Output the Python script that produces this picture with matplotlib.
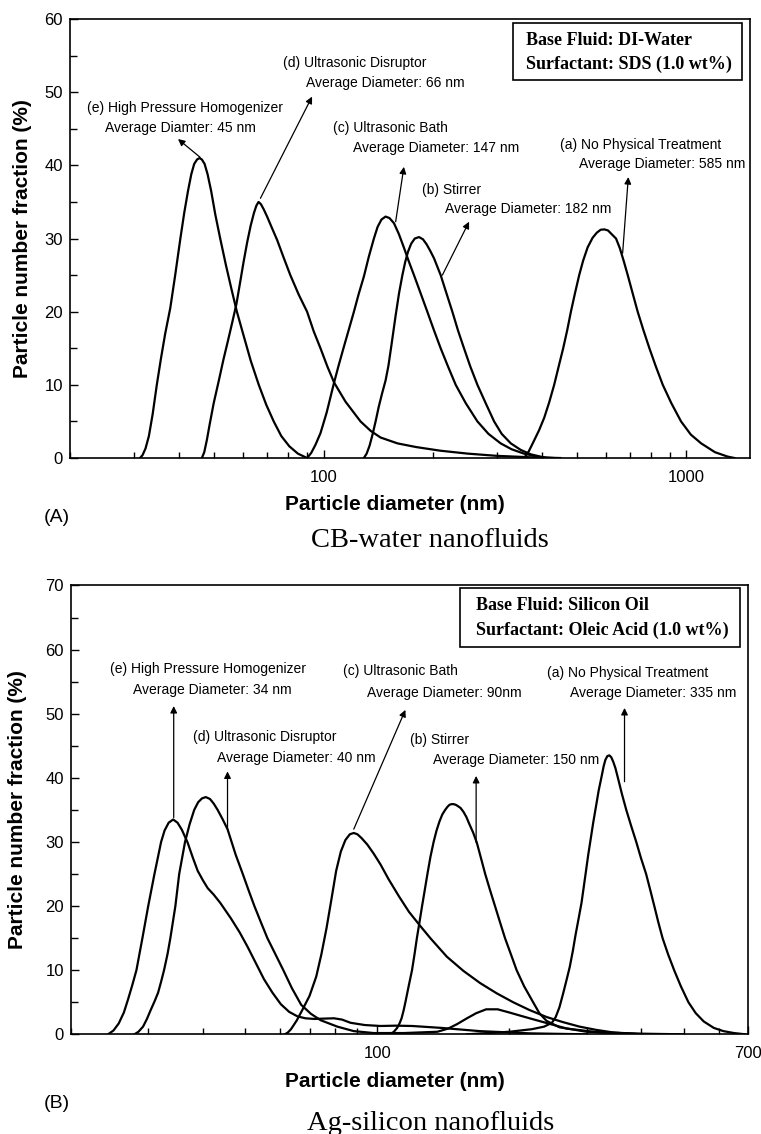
import matplotlib
matplotlib.use("Agg")
import matplotlib.pyplot as plt
from matplotlib.patches import Rectangle
from matplotlib.ticker import LogLocator, MultipleLocator, NullFormatter

plt.rcParams["font.family"] = ["Liberation Sans", "DejaVu Sans"]

# ---------------- (A) CB-water: diameter (nm) vs particle number fraction (%)
cb_a_d = [357.5, 368, 380, 393, 406, 419, 432.5, 445, 458, 470, 481, 494, 507, 520, 535, 552, 567,
          581, 595, 609, 623, 640.6, 656, 672, 690, 712, 735, 762, 791.8, 825, 862, 910, 968,
          1030, 1100, 1200, 1300, 1359]
cb_a_v = [0, 0.9, 2.3, 3.8, 5.5, 7.6, 10, 12.5, 15, 17.5, 20, 22.6, 25, 27, 28.8, 30.1, 30.8,
          31.2, 31.25, 31.1, 30.6, 30, 28.7, 27, 25, 22.5, 20, 17.5, 15, 12.5, 10, 7.5, 5,
          3.2, 2, 0.8, 0.2, 0]

cb_b_d = [129.2, 131.5, 134.0, 136.5, 139.2, 142.0, 145.0, 148.3, 151.0, 154.0, 158.1, 161.5,
          165.0, 168.0, 171.0, 174.5, 178.5, 183.4, 188.0, 192.5, 197.0, 201.7, 210.4, 218,
          226.6, 235, 244.0, 254, 265.7, 280.0, 295.4, 310, 328.5, 350, 373.0, 412.0]
cb_b_v = [0, 0.6, 1.7, 3.2, 5, 7.0, 8.8, 10.6, 12.6, 15.5, 19.5, 22.5,
          25, 26.8, 28.2, 29.3, 30.0, 30.2, 29.9, 29.2, 28.3, 27.3, 25, 22.6,
          20, 17.4, 15, 12.5, 10, 7.5, 5, 3.3, 2, 1.1, 0.5, 0]

cb_c_d = [90.1, 92.5, 95.0, 98.1, 102.0, 106.8, 110.0, 113.8, 117.5, 121.3, 125.0, 129.2,
          133.3, 137.7, 141.0, 144.5, 148.3, 152.0, 156.4, 161.4, 166.5, 171.8, 177.6, 185.0,
          193.3, 201.5, 210.4, 220.5, 231.5, 246.7, 265.7, 285, 308, 330, 357, 397, 430]
cb_c_v = [0, 0.7, 1.8, 3.4, 6.2, 10.2, 12.6, 15.2, 17.6, 20, 22.4, 24.8,
          27.5, 30, 31.6, 32.6, 33, 32.8, 32.1, 30.6, 28.8, 26.9, 25, 22.6,
          20, 17.5, 15, 12.5, 10, 7.5, 5, 3.3, 2, 1.2, 0.6, 0.1, 0]

cb_d_d = [46.2, 46.9, 47.7, 48.5, 49.8, 51.4, 53.0, 54.5, 56.0, 57.5, 58.8, 60.2, 61.6, 63.0,
          64.3, 65.3, 66.2, 67.2, 68.4, 69.9, 72.0, 74.5, 77.5, 81.0, 85.5, 90.1, 94.0, 98.1,
          102.5, 107.0, 115.0, 126.5, 135, 143.7, 160, 180, 210, 250, 300, 373, 450]
cb_d_v = [0, 0.8, 2.5, 4.5, 7.5, 10.5, 13.5, 16, 18.5, 21, 23.8, 26.8, 29.5, 31.8,
          33.5, 34.5, 35, 34.7, 34, 33, 31.5, 29.8, 27.5, 25, 22.3, 20, 17.3, 15,
          12.5, 10.3, 7.7, 5, 3.7, 2.8, 2.0, 1.5, 1.0, 0.6, 0.3, 0.1, 0]

cb_e_d = [31.2, 31.7, 32.3, 33.0, 33.8, 34.7, 35.6, 36.6, 37.8, 39.0, 40.3, 41.3, 42.3, 43.2,
          44.0, 44.8, 45.5, 46.2, 47.0, 47.9, 49.0, 50.3, 51.9, 53.8, 55.8, 57.7, 60.0, 63.0,
          66.3, 69.5, 72.9, 76.5, 80.5, 85.0, 90.1]
cb_e_v = [0, 0.4, 1.3, 3.0, 6.0, 10, 13.5, 17, 20.5, 25, 30, 33.5, 36.5, 38.8,
          40.2, 40.8, 41, 40.8, 40.2, 38.8, 36.5, 33.3, 30, 26.4, 23, 20, 17, 13.3,
          10, 7.3, 5, 3, 1.6, 0.6, 0]

# ---------------- (B) Ag-silicon oil
ag_a_d = [160, 200, 225, 240, 250, 255, 260, 265, 270, 274.5, 279, 283, 287.5, 292, 295.5,
          299, 302.5, 306.5, 310.5, 315, 319.5, 324.7, 328, 331, 334.5, 338, 341.5, 345, 349,
          353.5, 361, 369.4, 379, 389.3, 399, 410, 419, 428, 437, 447, 460, 475, 492, 512,
          532, 555, 585, 615, 650, 690]
ag_a_v = [0, 0.4, 0.8, 1.2, 1.8, 2.7, 4.2, 6.3, 8.5, 10.5, 13, 15.5, 18, 20.5, 23,
          25.5, 28, 30.5, 33, 35.5, 38, 40.3, 41.8, 42.8, 43.4, 43.5, 43.2, 42.5, 41.5,
          40, 37.5, 35, 32.5, 30, 27.5, 25, 22.5, 20, 17.5, 15, 12.5, 10, 7.5, 5,
          3.3, 2, 1, 0.5, 0.2, 0]

ag_b_d = [107, 109, 110.9, 112.3, 113.5, 114.7, 115.8, 117.8, 119.9, 121.5, 123.0, 124.7,
          126.4, 128.2, 130.0, 132.1, 134.3, 136.4, 138.5, 140.6, 142.7, 144.5, 146.0, 147.6,
          149.1, 150.8, 152.5, 154.7, 157.1, 159.5, 162.0, 165.2, 168.5, 172.2, 176.1, 180.6,
          185.4, 190.3, 195.4, 201.5, 207.7, 216, 226.5, 234, 243, 260, 300, 400, 500]
ag_b_v = [0, 0.4, 1, 1.7, 2.5, 3.7, 5, 7.5, 10, 12.5, 15, 17.5,
          20, 22.5, 25, 27.7, 30, 31.8, 33.2, 34.3, 35, 35.5, 35.8, 35.9,
          35.9, 35.8, 35.6, 35.3, 34.7, 33.9, 32.8, 31.5, 29.9, 27.5, 25, 22.5,
          20, 17.5, 15, 12.5, 10, 7.5, 5, 3.3, 2.1, 1.1, 0.4, 0.1, 0]

ag_c_d = [61.5, 62.5, 63.5, 64.5, 65.5, 67.4, 70.0, 72.5, 74.5, 76.5, 78.5, 80.5, 82.5, 84.5,
          86.5, 88.3, 90.0, 92.0, 94.8, 98.0, 101.6, 106, 112, 118, 125.2, 132, 144, 157,
          171.4, 187, 204, 222, 243, 265, 289, 315, 344, 375, 411]
ag_c_v = [0, 0.3, 0.8, 1.5, 2.2, 3.8, 6.0, 9.0, 12.5, 16.5, 21, 25.5, 28.5, 30.3,
          31.2, 31.4, 31.2, 30.6, 29.6, 28.2, 26.5, 24.2, 21.5, 19.1, 16.9, 15, 12.1, 9.9,
          8.0, 6.4, 5.0, 3.8, 2.7, 1.9, 1.2, 0.7, 0.3, 0.1, 0]

ag_d_d = [27.9, 28.5, 29.2, 29.8, 30.4, 31.0, 31.6, 32.1, 32.6, 33.2, 33.7, 34.6, 35.3, 36.4,
          37.3, 38.2, 39.0, 39.8, 40.6, 41.5, 42.3, 43.2, 44.3, 45.5, 47.5, 49.3, 50.8, 52.4,
          54.2, 56.1, 58.5, 61.0, 63.8, 67.0, 70.5, 74.2, 81.0, 88.3, 98.0, 115, 137, 145,
          152, 160, 168, 177, 188, 200, 212, 225, 245, 270, 320, 400]
ag_d_v = [0, 0.4, 1.2, 2.4, 3.8, 5.1, 6.5, 8.2, 10, 12.5, 15, 20, 25, 30,
          32.8, 35, 36.2, 36.8, 37, 36.7, 36.0, 35, 33.6, 32, 28, 25, 22.5, 20,
          17.5, 15, 12.5, 10, 7.2, 4.6, 3.2, 2.2, 1.2, 0.5, 0.2, 0.2, 0.4, 0.9,
          1.6, 2.5, 3.3, 3.9, 3.9, 3.4, 2.9, 2.4, 1.7, 0.9, 0.3, 0]

ag_e_d = [24.3, 25.0, 25.7, 26.4, 27.0, 27.6, 28.2, 29.1, 30.0, 31.0, 32.1, 32.7, 33.4, 34.2,
          35.0, 35.8, 36.9, 37.9, 38.9, 40.0, 41.0, 42.3, 43.8, 46.3, 48.5, 50.6, 52.8, 55.1,
          57.6, 60.2, 62.9, 65.7, 68.5, 71.7, 75.5, 79.6, 83.0, 86.8, 93.5, 101.6, 110, 120,
          140, 171, 223, 300]
ag_e_v = [0, 0.6, 1.7, 3.4, 5.5, 7.7, 10, 15, 20, 25, 30, 31.8, 33, 33.5,
          33, 31.9, 29.9, 27.6, 25.5, 24, 22.8, 21.8, 20.5, 18.1, 15.9, 13.6, 11.1, 8.6,
          6.5, 4.7, 3.5, 2.8, 2.5, 2.4, 2.45, 2.5, 2.3, 1.8, 1.45, 1.3, 1.35, 1.3,
          1.0, 0.5, 0.15, 0]

cb_curves = [(cb_a_d, cb_a_v), (cb_b_d, cb_b_v), (cb_c_d, cb_c_v), (cb_d_d, cb_d_v), (cb_e_d, cb_e_v)]
ag_curves = [(ag_a_d, ag_a_v), (ag_b_d, ag_b_v), (ag_c_d, ag_c_v), (ag_d_d, ag_d_v), (ag_e_d, ag_e_v)]

# label texts, text spots (axes fraction), arrow head / arrow tail (data)
cb_notes = [
    ("(e) High Pressure Homogenizer", "Average Diamter: 45 nm", (0.025, 0.797), (0.0515, 0.752), (39.7, 43.6), (45.7, 41.1)),
    ("(d) Ultrasonic Disruptor", "Average Diameter: 66 nm", (0.313, 0.900), (0.347, 0.854), (93.0, 49.4), (67.0, 35.5)),
    ("(c) Ultrasonic Bath", "Average Diameter: 147 nm", (0.387, 0.752), (0.416, 0.706), (166.6, 39.8), (158.1, 32.3)),
    ("(b) Stirrer", "Average Diameter: 182 nm", (0.517, 0.610), (0.551, 0.567), (252.0, 32.3), (212.7, 25.0)),
    ("(a) No Physical Treatment", "Average Diameter: 585 nm", (0.7206, 0.713), (0.7485, 0.670), (692.6, 38.4), (668.0, 28.0)),
]
ag_notes = [
    ("(e) High Pressure Homogenizer", "Average Diameter: 34 nm", (0.0576, 0.813), (0.0916, 0.767), (34.3, 51.2), (34.3, 33.8)),
    ("(d) Ultrasonic Disruptor", "Average Diameter: 40 nm", (0.180, 0.663), (0.216, 0.616), (45.5, 41.0), (45.5, 32.0)),
    ("(c) Ultrasonic Bath", "Average Diameter: 90nm", (0.4018, 0.809), (0.437, 0.761), (115.8, 50.6), (88.3, 32.0)),
    ("(b) Stirrer", "Average Diameter: 150 nm", (0.5007, 0.656), (0.5347, 0.611), (167.9, 40.3), (167.9, 29.9)),
    ("(a) No Physical Treatment", "Average Diameter: 335 nm", (0.703, 0.804), (0.737, 0.760), (366.0, 50.9), (366.0, 39.4)),
]


def setup(ax, xlim, xticks, ymax, box_lines, box_rect, box_text_xy, notes, curves, ylab_x, xlab_xy):
    for d, v in curves:
        ax.plot(d, v, color="black", lw=1.6, solid_joinstyle="round")
    ax.set_xscale("log")
    ax.set_xlim(*xlim)
    ax.set_ylim(0, ymax)
    ax.set_xticks(xticks, [str(t) for t in xticks])
    ax.xaxis.set_minor_locator(LogLocator(base=10, subs=range(2, 10)))
    ax.xaxis.set_minor_formatter(NullFormatter())
    ax.set_yticks(range(0, ymax + 1, 10))
    ax.yaxis.set_minor_locator(MultipleLocator(5))
    ax.tick_params(which="both", direction="in", top=False, right=False, width=1.0, labelsize=12)
    ax.tick_params(axis="x", which="major", length=6, pad=8.5)
    ax.tick_params(axis="x", which="minor", length=4)
    ax.tick_params(axis="y", which="major", length=6, pad=5)
    ax.tick_params(axis="y", which="minor", length=5)
    for s in ax.spines.values():
        s.set_linewidth(1.2)

    ax.set_ylabel("Particle number fraction (%)", fontsize=15, fontweight="bold", va="center")
    ax.yaxis.set_label_coords(ylab_x, 0.5)
    ax.set_xlabel("Particle diameter (nm)", fontsize=15, fontweight="bold", va="center")
    ax.xaxis.set_label_coords(*xlab_xy)

    ax.add_patch(Rectangle(box_rect[:2], box_rect[2], box_rect[3], transform=ax.transAxes,
                           fill=False, lw=1.2, color="black"))
    for (tx, ty), line in zip(box_text_xy, box_lines):
        ax.text(tx, ty, line, transform=ax.transAxes, family="Liberation Serif",
                fontweight="bold", fontsize=13, va="center")

    for l1, l2, p1, p2, head, tail in notes:
        ax.text(p1[0], p1[1], l1, transform=ax.transAxes, fontsize=10, va="center")
        ax.text(p2[0], p2[1], l2, transform=ax.transAxes, fontsize=10, va="center")
        ax.annotate("", xy=head, xytext=tail,
                    arrowprops=dict(arrowstyle="-|>", color="black", lw=0.9,
                                    mutation_scale=10, shrinkA=0, shrinkB=0))


fig = plt.figure(figsize=(7.61, 11.34), dpi=100)
ax1 = fig.add_axes([0.0920, 0.5961, 0.8936, 0.3871])
ax2 = fig.add_axes([0.0933, 0.0879, 0.8896, 0.3958])

setup(ax1, (20, 1500), [100, 1000], 60,
      ["Base Fluid: DI-Water", "Surfactant: SDS (1.0 wt%)"],
      (0.651, 0.861, 0.337, 0.129), [(0.6706, 0.952), (0.6706, 0.8975)],
      cb_notes, cb_curves, -0.070, (0.478, -0.107))
setup(ax2, (20, 700), [100, 700], 70,
      ["Base Fluid: Silicon Oil", "Surfactant: Oleic Acid (1.0 wt%)"],
      (0.5746, 0.864, 0.4136, 0.130), [(0.598, 0.956), (0.598, 0.899)],
      ag_notes, ag_curves, -0.079, (0.478, -0.104))

fig.text(57 / 761, 1 - 521.7 / 1134, "(A)", ha="center", va="baseline", fontsize=14)
fig.text(430 / 761, 1 - 546.7 / 1134, "CB-water nanofluids", ha="center", va="baseline",
         family="Liberation Serif", fontsize=20.5)
fig.text(57 / 761, 1 - 1108 / 1134, "(B)", ha="center", va="baseline", fontsize=14)
fig.text(431 / 761, 1 - 1130 / 1134, "Ag-silicon nanofluids", ha="center", va="baseline",
         family="Liberation Serif", fontsize=20.5)

fig.savefig("out.png", dpi=100)
